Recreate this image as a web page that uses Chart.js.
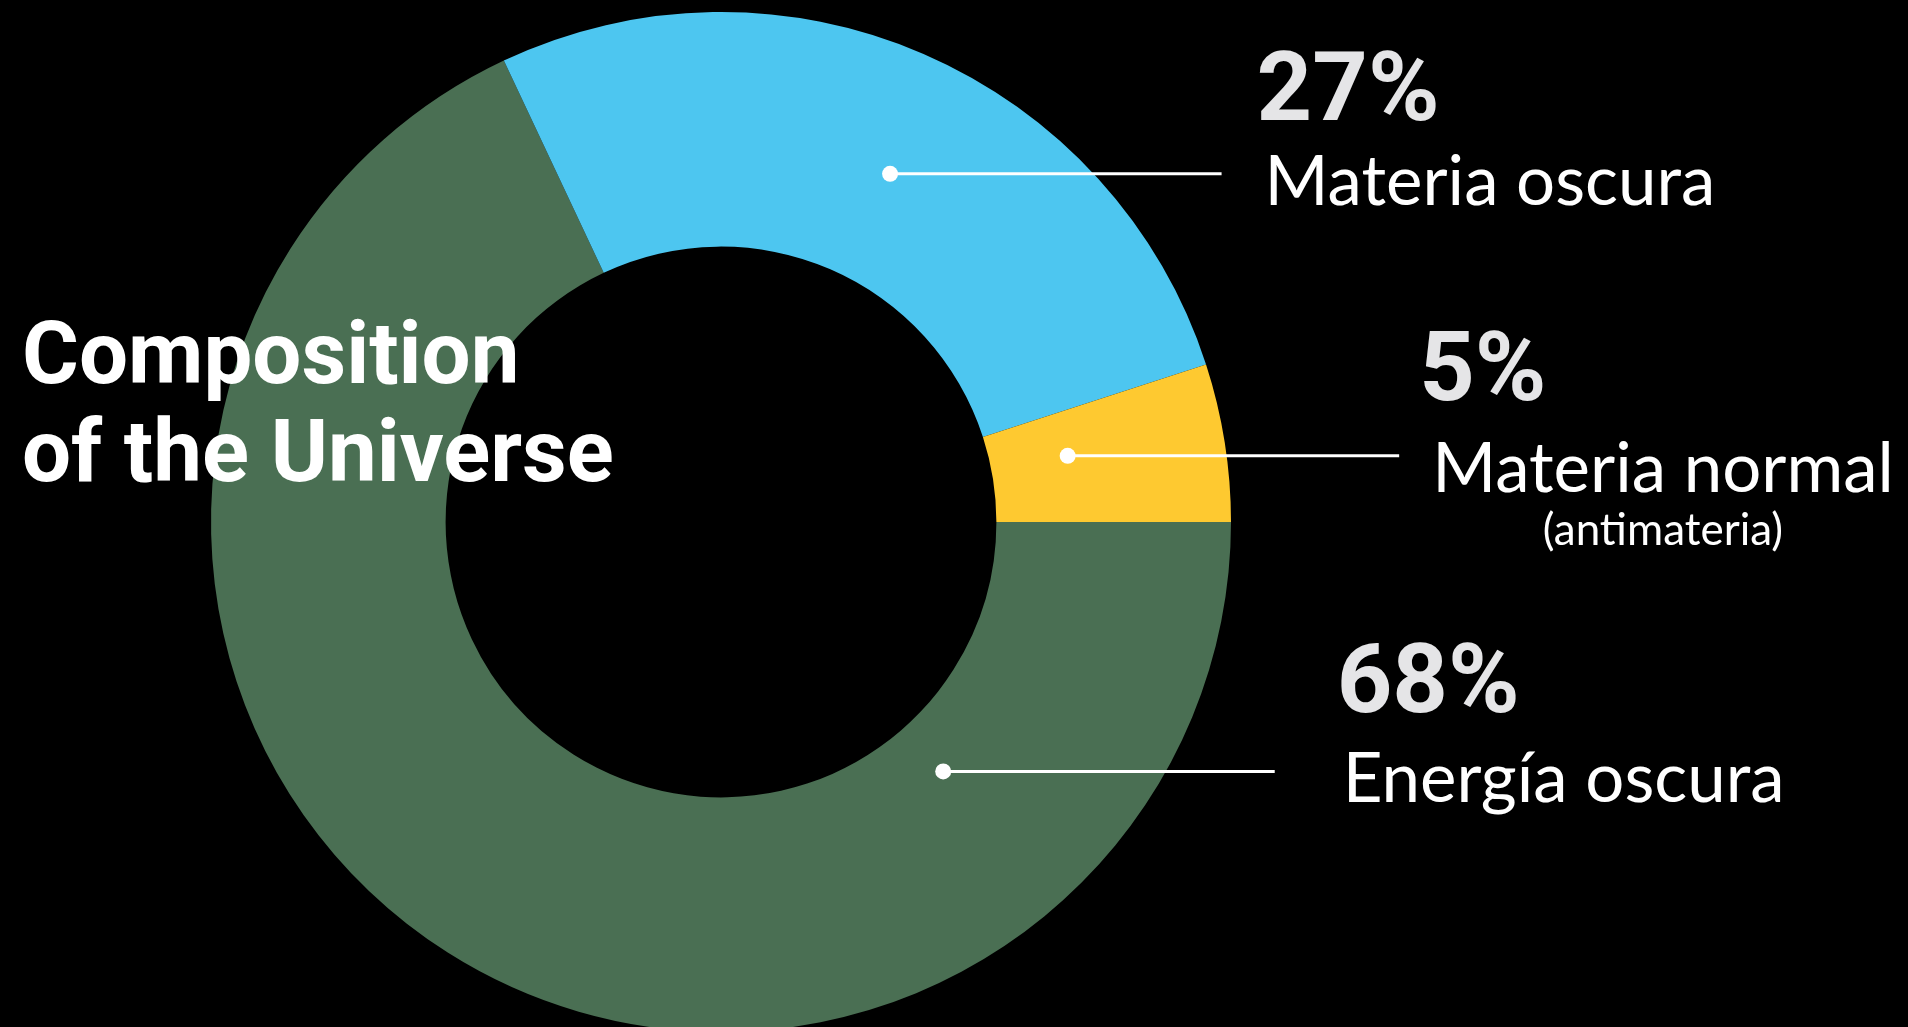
<!DOCTYPE html>
<html lang="es">
<head>
<meta charset="UTF-8">
<title>Composition of the Universe</title>
<script src="https://cdn.jsdelivr.net/npm/chart.js"></script>
<style>
  html, body { margin: 0; padding: 0; background: #000; overflow: hidden; }
  #wrap { position: relative; width: 1908px; height: 1040px; }
</style>
</head>
<body>
<div id="wrap"><canvas id="universe" width="1908" height="1040"></canvas></div>
<script>
const categories = ['Energía oscura', 'Materia oscura', 'Materia normal'];
const notes = ['', '', '(antimateria)'];
const shares = [68, 27, 5];
const sliceColors = ['#4a6f53', '#4dc6f0', '#fec930'];
const titleLines = ['Composition', 'of the Universe'];

// callout placement: angle on the ring (deg, ccw from 3 o'clock), distance from
// centre as share of outer radius, then text offsets from the end of the line
const callouts = [
    { angle: -48.3, r: 0.655, pctDx: 62, pctDy: -59, nameDx: 68, nameDy: 31 },
    { angle: 64.1, r: 0.759, pctDx: 35, pctDy: -54, nameDx: 43, nameDy: 31 },
    { angle: 10.8, r: 0.692, pctDx: 20, pctDy: -56, nameDx: 33, nameDy: 36 }
];

const calloutPlugin = {
    id: 'calloutPlugin',
    afterDraw: (chart) => {
        const ctx = chart.ctx;
        const arc = chart.getDatasetMeta(0).data[0];
        const cx = arc.x, cy = arc.y, R = arc.outerRadius;

        ctx.save();
        callouts.forEach((c, i) => {
            const t = c.angle * Math.PI / 180;
            const x0 = cx + c.r * R * Math.cos(t);
            const y0 = cy - c.r * R * Math.sin(t);
            const x1 = x0 + 0.65 * R;

            // line + dot
            ctx.strokeStyle = '#ffffff';
            ctx.lineWidth = 3;
            ctx.beginPath();
            ctx.moveTo(x0, y0);
            ctx.lineTo(x1, y0);
            ctx.stroke();
            ctx.fillStyle = '#ffffff';
            ctx.beginPath();
            ctx.arc(x0, y0, 8, 0, Math.PI * 2);
            ctx.fill();

            // percentage
            ctx.textAlign = 'left';
            ctx.textBaseline = 'alphabetic';
            ctx.fillStyle = '#e5e5e7';
            ctx.font = 'bold 97px Roboto';
            ctx.fillText(shares[i] + '%', x1 + c.pctDx, y0 + c.pctDy);

            // name
            ctx.fillStyle = '#ffffff';
            ctx.font = '69px Lato';
            const nx = x1 + c.nameDx, ny = y0 + c.nameDy;
            ctx.fillText(categories[i], nx, ny);
            const w = ctx.measureText(categories[i]).width;

            if (notes[i]) {
                ctx.font = '44px Lato';
                ctx.textAlign = 'center';
                ctx.fillText(notes[i], nx + w / 2, ny + 53);
            }
        });

        // title over the ring
        ctx.textAlign = 'left';
        ctx.fillStyle = '#ffffff';
        ctx.font = 'bold 87px Roboto';
        ctx.fillText(titleLines[0], 22, 383);
        ctx.fillText(titleLines[1], 22, 481);
        ctx.restore();
    }
};

const chart = new Chart(document.getElementById('universe').getContext('2d'), {
    type: 'doughnut',
    data: {
        labels: categories,
        datasets: [{
            data: shares,
            backgroundColor: sliceColors,
            borderWidth: 0,
            hoverBorderWidth: 0,
            hoverOffset: 0
        }]
    },
    options: {
        responsive: false,
        animation: false,
        events: [],
        rotation: 90,
        cutout: '54%',
        layout: { padding: { left: 211, right: 677, top: 12, bottom: 8 } },
        plugins: {
            legend: { display: false },
            tooltip: { enabled: false }
        }
    },
    plugins: [calloutPlugin]
});
</script>
</body>
</html>
